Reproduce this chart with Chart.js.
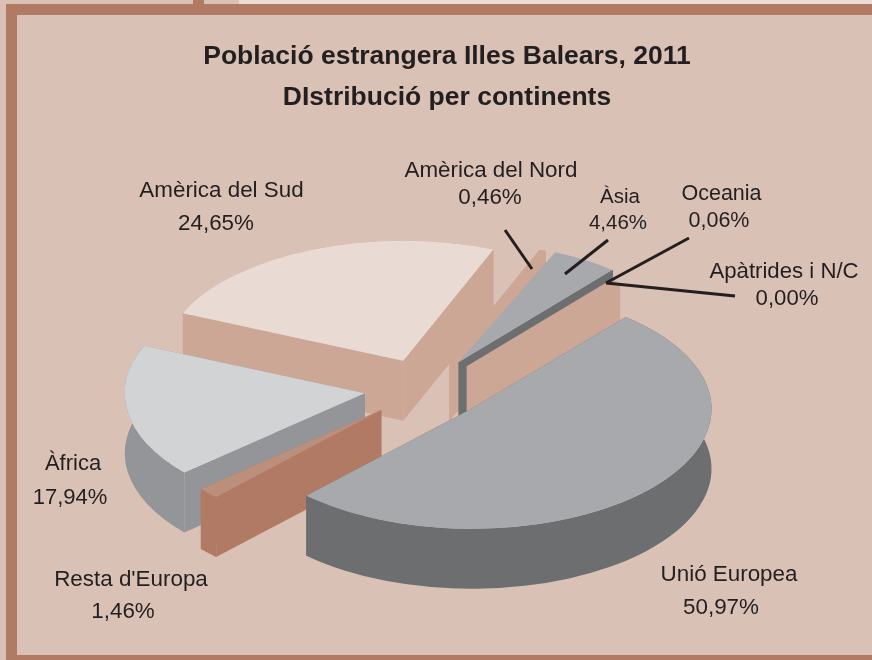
<!DOCTYPE html>
<html><head><meta charset="utf-8">
<style>html,body{margin:0;padding:0;background:#dac1b5}#w{width:872px;height:660px;position:relative}</style>
<script src="https://cdn.jsdelivr.net/npm/chart.js@4"></script></head>
<body><div id="w"><canvas id="c" width="872" height="660"></canvas></div>
<script>
const categories = ["Unió Europea","Resta d'Europa","Àfrica","Amèrica del Sud","Amèrica del Nord","Àsia","Oceania","Apàtrides i N/C"];
const values = [50.97,1.46,17.94,24.65,0.46,4.46,0.06,0.00];
const topColors = ["#a7a9ac","#bc8f7c","#d1d3d4","#e9dbd4","#cca796","#a7a9ac","#6d6e70","#cca796"];
const sideColors = ["#6d6e70","#b07a65","#939598","#cca796","#cca796","#a7a9ac","#6d6e70","#cca796"];
const explode = [61,62,62,60,60,62,60,60];
const drawOrder = [3,4,6,7,5,2,1,0];
const titleLines = ["Població estrangera Illes Balears, 2011","DIstribució per continents"];
const labelBoxes = [
 {cx:729,vx:721,y1:575,y2:608,size:22.4},
 {cx:131,vx:123,y1:580,y2:612,size:22.4},
 {cx:73,vx:70,y1:464,y2:498,size:22},
 {cx:221.5,vx:216,y1:191,y2:224,size:22.4},
 {cx:491,vx:490,y1:171,y2:198,size:22.4},
 {cx:620,vx:618,y1:197,y2:223,size:20.5},
 {cx:721.5,vx:719,y1:194,y2:221,size:21.5},
 {cx:784,vx:787,y1:272,y2:299,size:22.2}
];
const leaders = [[505,230,532,269],[608,240,565,274],[689,238,606,283],[735,296,606,283]];
const TILT = 0.5, DEPTH = 60, CX_SHIFT = -21;

function apexOf(a,i,all){
  const src = i>=6 ? all[5] : a;
  const mid = (src.startAngle+src.endAngle)/2;
  const d = explode[i>=6?5:i];
  return {x:src.x+CX_SHIFT+Math.cos(mid)*d, y:src.y+Math.sin(mid)*d*TILT};
}
function drawWalls(ctx,a,ap,color){
  const R=a.outerRadius, s=a.startAngle, e=a.endAngle;
  ctx.fillStyle=color;
  for(const t of [s,e]){
    const ox=ap.x+Math.cos(t)*R, oy=ap.y+Math.sin(t)*R*TILT;
    ctx.beginPath();ctx.moveTo(ap.x,ap.y);ctx.lineTo(ox,oy);ctx.lineTo(ox,oy+DEPTH);ctx.lineTo(ap.x,ap.y+DEPTH);ctx.closePath();ctx.fill();
  }
  if(e-s>0.001){
    ctx.beginPath();
    ctx.ellipse(ap.x,ap.y,R,R*TILT,0,s,e);
    ctx.ellipse(ap.x,ap.y+DEPTH,R,R*TILT,0,e,s,true);
    ctx.closePath();ctx.fill();
  }
}
const pie3d = {
  id:'pie3d',
  beforeDraw(chart){
    const {ctx,width:W,height:H}=chart;
    ctx.save();
    ctx.fillStyle='#dac1b5';ctx.fillRect(0,0,W,H);
    ctx.fillStyle='#eadcd5';ctx.fillRect(239,0,W-239,4);
    ctx.fillStyle='#b07a65';
    ctx.fillRect(193,0,11,5);
    ctx.fillRect(6,4,W-6,11);
    ctx.fillRect(6,4,11,H-4);
    ctx.fillRect(6,655,W-6,5);
    ctx.restore();
  },
  beforeDatasetDraw(chart){
    const {ctx}=chart, arcs=chart.getDatasetMeta(0).data;
    for(const i of drawOrder){
      const a=arcs[i], ap=apexOf(a,i,arcs);
      if(i===7){ // inner face seen behind the dark Oceania wall
        const o=arcs[6], R=o.outerRadius, t=o.startAngle;
        const ox=ap.x+Math.cos(t)*R, oy=ap.y+Math.sin(t)*R*TILT;
        ctx.fillStyle=sideColors[7];
        ctx.beginPath();ctx.moveTo(ap.x+8,ap.y+4);ctx.lineTo(ox,oy+9);ctx.lineTo(ox+8,oy+14);ctx.lineTo(ox+8,oy+14+DEPTH);ctx.lineTo(ap.x+8,ap.y+DEPTH+8);ctx.closePath();ctx.fill();
        continue;
      }
      if(i!==5) drawWalls(ctx,a,ap,sideColors[i]);
      if(a.circumference>0){
        ctx.save();
        ctx.translate(ap.x,ap.y);
        ctx.scale(1,TILT);
        ctx.translate(-a.x,-a.y);
        a.draw(ctx);
        ctx.restore();
      }
    }
    return false;
  },
  afterDraw(chart){
    const {ctx}=chart;
    ctx.save();
    ctx.strokeStyle='#231f20';ctx.lineWidth=3;
    for(const l of leaders){ctx.beginPath();ctx.moveTo(l[0],l[1]);ctx.lineTo(l[2],l[3]);ctx.stroke();}
    ctx.fillStyle='#231f20';ctx.textAlign='center';ctx.textBaseline='middle';
    categories.forEach((n,i)=>{
      const b=labelBoxes[i];
      ctx.font=b.size+'px "Liberation Sans"';
      ctx.fillText(n,b.cx,b.y1);
      ctx.fillText(values[i].toFixed(2).replace('.',',')+'%',b.vx,b.y2);
    });
    ctx.restore();
  }
};
new Chart(document.getElementById('c'),{
  type:'pie',
  data:{labels:categories,datasets:[{data:values,backgroundColor:topColors,borderWidth:0,radius:240}]},
  options:{
    responsive:false,animation:false,rotation:40,
    layout:{padding:{left:22,right:0,top:0,bottom:1}},
    plugins:{
      legend:{display:false},tooltip:{enabled:false},
      title:{display:true,text:titleLines,color:'#231f20',font:{family:'"Liberation Sans"',size:26.5,weight:'bold',lineHeight:1.547},padding:{top:36,bottom:0}}
    }
  },
  plugins:[pie3d]
});
</script></body></html>
